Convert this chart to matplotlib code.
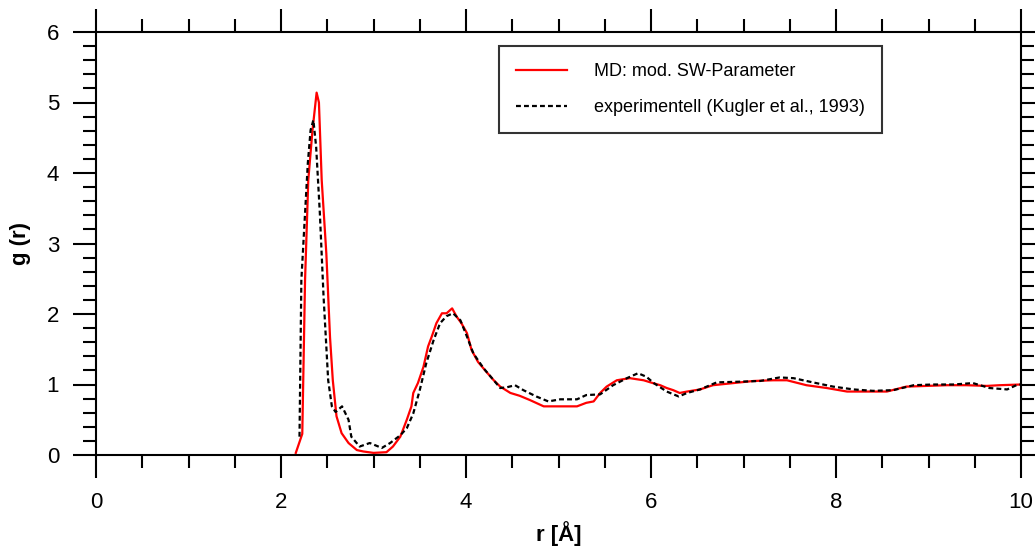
import matplotlib
matplotlib.use('Agg')
import matplotlib.pyplot as plt
from matplotlib.ticker import MultipleLocator

plt.rcParams['font.family'] = ['Liberation Sans', 'DejaVu Sans']

# MD simulation, modified SW parameters
r_md = [2.16, 2.23, 2.26, 2.295, 2.34, 2.385, 2.41, 2.44, 2.49, 2.53, 2.56, 2.60,
        2.655, 2.73, 2.82, 2.89, 3.0, 3.14, 3.21, 3.29, 3.36, 3.41, 3.43, 3.48,
        3.54, 3.59, 3.63, 3.68, 3.74, 3.79, 3.85, 3.90, 3.95, 4.01, 4.06, 4.13,
        4.22, 4.30, 4.37, 4.48, 4.58, 4.69, 4.84, 5.05, 5.20, 5.30, 5.38, 5.45,
        5.52, 5.63, 5.77, 5.92, 6.02, 6.10, 6.17, 6.24, 6.31, 6.39, 6.53, 6.67,
        6.89, 7.11, 7.32, 7.47, 7.68, 7.90, 8.12, 8.33, 8.55, 8.76, 8.98, 9.20,
        9.41, 9.63, 9.77, 10.0]
g_md = [0.03, 0.30, 2.48, 3.90, 4.60, 5.14, 5.00, 3.90, 2.86, 1.67, 1.06, 0.55,
        0.31, 0.17, 0.07, 0.05, 0.03, 0.04, 0.12, 0.26, 0.50, 0.69, 0.88, 1.02,
        1.25, 1.54, 1.68, 1.87, 2.01, 2.01, 2.08, 1.96, 1.87, 1.73, 1.49, 1.32,
        1.18, 1.06, 0.97, 0.88, 0.84, 0.78, 0.69, 0.69, 0.69, 0.74, 0.76, 0.88,
        0.97, 1.06, 1.09, 1.06, 1.02, 0.99, 0.95, 0.92, 0.88, 0.90, 0.93, 0.99,
        1.02, 1.05, 1.06, 1.06, 0.99, 0.95, 0.90, 0.90, 0.90, 0.97, 0.98, 0.99,
        0.99, 0.98, 0.99, 1.00]

# experiment (Kugler et al., 1993)
r_exp = [2.20, 2.22, 2.26, 2.29, 2.32, 2.35, 2.38, 2.42, 2.46, 2.51, 2.55, 2.59,
         2.66, 2.73, 2.76, 2.85, 2.96, 3.09, 3.18, 3.29, 3.36, 3.43, 3.50, 3.57,
         3.65, 3.72, 3.79, 3.86, 3.94, 4.01, 4.08, 4.19, 4.30, 4.37, 4.44, 4.53,
         4.62, 4.76, 4.89, 5.02, 5.20, 5.30, 5.45, 5.59, 5.74, 5.86, 5.95, 6.03,
         6.17, 6.30, 6.39, 6.53, 6.71, 6.96, 7.18, 7.39, 7.54, 7.75, 7.97, 8.19,
         8.40, 8.62, 8.84, 9.05, 9.27, 9.48, 9.66, 9.85, 9.95, 10.0]
g_exp = [0.26, 2.48, 3.43, 4.14, 4.61, 4.75, 4.37, 3.43, 2.25, 1.06, 0.69, 0.61,
         0.69, 0.50, 0.26, 0.12, 0.17, 0.10, 0.17, 0.28, 0.38, 0.59, 0.92, 1.30,
         1.63, 1.87, 1.97, 2.01, 1.91, 1.68, 1.44, 1.23, 1.06, 0.95, 0.96, 0.99,
         0.92, 0.83, 0.76, 0.79, 0.79, 0.85, 0.86, 0.99, 1.09, 1.16, 1.11, 1.02,
         0.90, 0.83, 0.88, 0.93, 1.03, 1.04, 1.05, 1.10, 1.09, 1.03, 0.97, 0.93,
         0.91, 0.92, 0.99, 1.00, 1.00, 1.02, 0.95, 0.93, 0.99, 1.00]

fig = plt.figure(figsize=(10.35, 5.46), dpi=100)
ax = fig.add_axes([96 / 1035, 1 - 455 / 546, (1021 - 96) / 1035, (455 - 32) / 546])

ax.plot(r_md, g_md, color='#ff0000', lw=1.6, label='MD: mod. SW-Parameter')
ax.plot(r_exp, g_exp, color='black', lw=1.6, dashes=(2.2, 1.4),
        label='experimentell (Kugler et al., 1993)')

ax.set_xlim(0, 10)
ax.set_ylim(0, 6)
ax.xaxis.set_major_locator(MultipleLocator(2))
ax.xaxis.set_minor_locator(MultipleLocator(0.5))
ax.yaxis.set_major_locator(MultipleLocator(1))
ax.yaxis.set_minor_locator(MultipleLocator(0.2))
ax.tick_params(which='both', direction='out', top=True, right=True, width=1.5,
               labelsize=16)
ax.tick_params(which='major', length=16.5, pad=10)
ax.tick_params(which='minor', length=9.5)
for s in ax.spines.values():
    s.set_linewidth(1.5)

ax.set_xlabel('r [Å]', fontsize=16, fontweight='bold', labelpad=6)
ax.set_ylabel('g (r)', fontsize=16, fontweight='bold', labelpad=11)

leg = ax.legend(loc='upper left', bbox_to_anchor=((499 - 96) / 925, 1 - (46 - 32) / 423),
                fontsize=13, frameon=True, fancybox=False, handlelength=2.8,
                handletextpad=1.5, borderpad=0.95, labelspacing=1.05,
                borderaxespad=0)
leg.get_frame().set_edgecolor('black')
leg.get_frame().set_linewidth(1.5)

fig.savefig('out.png', dpi=100)
